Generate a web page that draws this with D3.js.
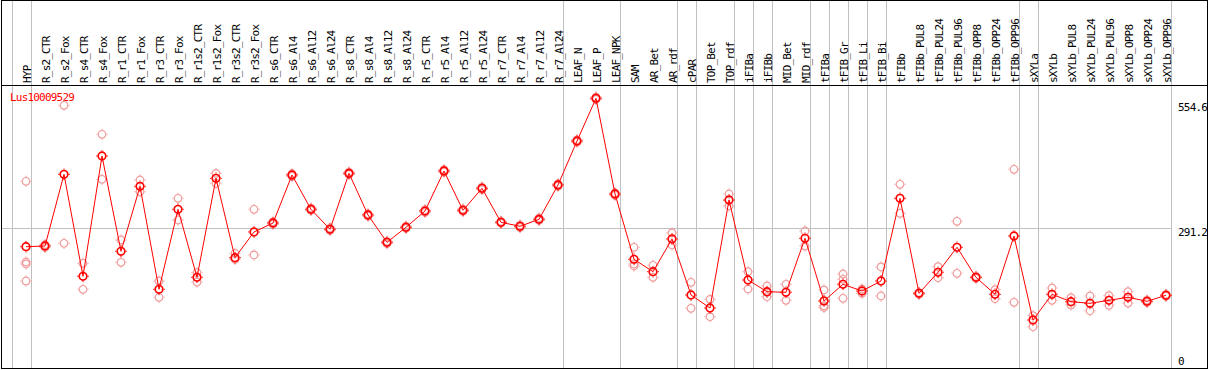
<!DOCTYPE html>
<html>
<head>
<meta charset="utf-8">
<script src="https://cdn.jsdelivr.net/npm/d3@7"></script>
<style>
  body { margin: 0; background: #fff; }
  svg { display: block; }
  text { font-family: "DejaVu Sans Mono", monospace; font-size: 11px; letter-spacing: -0.8px; }
</style>
</head>
<body>
<script>
// expression profile, one gene across samples
const gene = "Lus10009529";

const samples = ["HYP", "R_s2_CTR", "R_s2_Fox", "R_s4_CTR", "R_s4_Fox", "R_r1_CTR", "R_r1_Fox",
  "R_r3_CTR", "R_r3_Fox", "R_r1s2_CTR", "R_r1s2_Fox", "R_r3s2_CTR", "R_r3s2_Fox",
  "R_s6_CTR", "R_s6_Al4", "R_s6_Al12", "R_s6_Al24", "R_s8_CTR", "R_s8_Al4", "R_s8_Al12", "R_s8_Al24",
  "R_r5_CTR", "R_r5_Al4", "R_r5_Al12", "R_r5_Al24", "R_r7_CTR", "R_r7_Al4", "R_r7_Al12", "R_r7_Al24",
  "LEAF_N", "LEAF_P", "LEAF_NPK", "SAM", "AR_Bet", "AR_rdf", "cPAR", "TOP_Bet", "TOP_rdf",
  "iFIBa", "iFIBb", "MID_Bet", "MID_rdf", "tFIBa", "tFIB_Gr", "tFIB_Li", "tFIB_Bi", "tFIBb",
  "tFIBb_PUL8", "tFIBb_PUL24", "tFIBb_PUL96", "tFIBb_OPP8", "tFIBb_OPP24", "tFIBb_OPP96",
  "sXYLa", "sXYLb", "sXYLb_PUL8", "sXYLb_PUL24", "sXYLb_PUL96", "sXYLb_OPP8", "sXYLb_OPP24", "sXYLb_OPP96"];

const means = [251.6, 253.0, 404.2, 189.2, 442.8, 241.9, 378.9, 161.7, 330.4, 187.0, 395.8, 228.4, 282.6,
  301.5, 402.8, 330.4, 288.3, 406.3, 318.4, 260.8, 292.5, 326.8, 411.2, 328.3, 374.7, 303.0, 294.6, 309.3, 381.7,
  474.5, 564.5, 362.7, 225.0, 198.9, 267.8, 149.7, 122.3, 350.0, 181.3, 156.7, 155.4, 269.3, 137.1, 172.3,
  158.2, 179.2, 353.6, 153.3, 197.6, 250.3, 187.0, 151.2, 274.1, 97.0, 151.2, 135.6, 132.2, 138.5, 144.9,
  136.4, 149.1];

const replicates = [
  [389.5, 219.3, 215.1, 179.2], [250, 256], [549.7, 258.7], [216.6, 161.7], [488.6, 393.7],
  [265.7, 218.7], [392.2, 367.5], [179.2, 144.9], [353.6, 307.9], [196.7, 177.1], [406.3, 385.3],
  [237.6, 225.0], [330.4, 234.1], [299, 304], [400, 405], [328, 333], [286, 291], [404, 409],
  [316, 321], [258, 263], [290, 295], [324, 329], [409, 414], [326, 331], [372, 377], [301, 305],
  [292, 297], [307, 312], [379, 384], [472, 477], [562, 567], [360, 365], [250.3, 215.1, 210.9],
  [212.3, 187.0], [280.5, 255.2], [176.5, 121.7], [140.6, 104.0], [362.7, 337.4], [198.9, 162.4],
  [168.7, 146.1, 155], [172.3, 138.5], [284.7, 253.0], [160.3, 127.2, 123.4], [194.0, 182.8, 142.8],
  [162.4, 153.3], [208.8, 147.6], [383.2, 322.0], [151, 155], [209.4, 186.2], [305.1, 195.5],
  [185, 189], [160.9, 141.9], [414.8, 134.3], [106.1, 82.9], [164.5, 138.5], [144.0, 128.6],
  [147.6, 116.6], [148.2, 128.0], [156.7, 132.8], [134, 139], [147, 151]];

// a grey separator is drawn after each of these sample indices
const groupEnds = [0, 28, 31, 34, 35, 37, 38, 39, 41, 42, 43, 44, 45, 52, 53, 60];
const yTicks = [0, 291.2, 554.6];
const gridAt = [291.2];

const W = 1209, H = 370;
const headerBottom = 85, plotBottom = 368;

const svg = d3.select("body").append("svg").attr("width", W).attr("height", H);

const x = d3.scalePoint().domain(samples).range([26, 1166]);
const y = d3.scaleLinear().domain([0, 554.6]).range([366, 103]);

// separators
const sepX = [x(samples[0]) - 14].concat(groupEnds.map(i => x(samples[i]) + 5));
svg.selectAll("line.sep").data(sepX).enter().append("line")
  .attr("class", "sep")
  .attr("x1", d => Math.round(d) + 0.5).attr("x2", d => Math.round(d) + 0.5)
  .attr("y1", 0).attr("y2", plotBottom)
  .attr("stroke", "#c0c0c0").attr("stroke-width", 1);

// horizontal grid
svg.selectAll("line.grid").data(gridAt).enter().append("line")
  .attr("class", "grid")
  .attr("x1", 1).attr("x2", Math.round(x(samples[60]) + 5) + 0.5)
  .attr("y1", d => Math.round(y(d)) + 0.5).attr("y2", d => Math.round(y(d)) + 0.5)
  .attr("stroke", "#c0c0c0");

// frame
svg.append("rect").attr("x", 1.5).attr("y", 0.5).attr("width", W - 3).attr("height", plotBottom)
  .attr("fill", "none").attr("stroke", "#000");
svg.append("line").attr("x1", 1).attr("x2", W - 1)
  .attr("y1", headerBottom + 0.5).attr("y2", headerBottom + 0.5).attr("stroke", "#000");

// sample labels
svg.selectAll("text.lab").data(samples).enter().append("text")
  .attr("class", "lab")
  .attr("transform", d => `translate(${x(d) + 5},83) rotate(-90)`)
  .text(d => d);

// y tick labels on the right
svg.selectAll("text.tick").data(yTicks).enter().append("text")
  .attr("class", "tick")
  .attr("x", 1178)
  .attr("y", d => Math.min(y(d) + 8, 365))
  .text(d => d);

svg.append("text").attr("x", 10).attr("y", 100.5).attr("fill", "#ff0000").text(gene);

function marker(g, color, sw) {
  g.append("circle").attr("r", 3.8).attr("fill", "none").attr("stroke", color).attr("stroke-width", sw);
  const t = 3.8 + sw / 2;
  [[0, -1], [0, 1], [-1, 0], [1, 0]].forEach(([dx, dy]) => {
    g.append("line")
      .attr("x1", dx * t).attr("y1", dy * t)
      .attr("x2", dx * (t + 1.2)).attr("y2", dy * (t + 1.2))
      .attr("stroke", color).attr("stroke-width", 1);
  });
}

// replicate points
const reps = [];
replicates.forEach((arr, i) => arr.forEach(v => reps.push({ s: samples[i], v })));
svg.selectAll("g.rep").data(reps).enter().append("g")
  .attr("class", "rep")
  .attr("transform", d => `translate(${x(d.s)},${y(d.v)})`)
  .each(function () { marker(d3.select(this), "#f09c9c", 1.2); });

// mean line
const line = d3.line().x((d, i) => x(samples[i])).y(d => y(d));
svg.append("path").datum(means).attr("d", line)
  .attr("fill", "none").attr("stroke", "#ff0000").attr("stroke-width", 1);

svg.selectAll("g.mean").data(means).enter().append("g")
  .attr("class", "mean")
  .attr("transform", (d, i) => `translate(${x(samples[i])},${y(d)})`)
  .each(function () { marker(d3.select(this), "#ff0000", 1.7); });
</script>
</body>
</html>
